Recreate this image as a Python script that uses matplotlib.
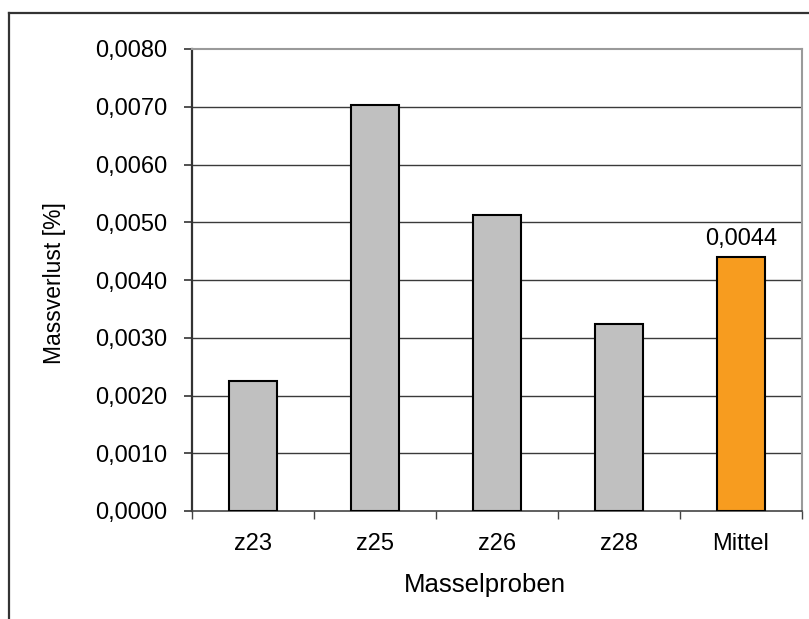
import matplotlib
matplotlib.use("Agg")
import matplotlib.pyplot as plt
from matplotlib.lines import Line2D
from matplotlib.ticker import FixedLocator, FuncFormatter, NullFormatter

plt.rcParams['font.family'] = ['Liberation Sans', 'DejaVu Sans']

# Mass loss per sample and the mean
categories = ["z23", "z25", "z26", "z28", "Mittel"]
values = [0.00225, 0.00703, 0.00513, 0.00324, 0.0044]
mean_label = "0,0044"
y_ticks = [0.000, 0.001, 0.002, 0.003, 0.004, 0.005, 0.006, 0.007, 0.008]

W, H = 809, 619
fig = plt.figure(figsize=(W / 100, H / 100), dpi=100)
ax = fig.add_axes([192 / W, 1 - 511 / H, 610 / W, 462 / H])

bar_colors = ["#C0C0C0"] * 4 + ["#F79C1F"]
x = list(range(len(categories)))
ax.bar(x, values, width=0.4, color=bar_colors, edgecolor="black",
       linewidth=1.5, zorder=3)

ax.set_xlim(-0.5, len(categories) - 0.5)
ax.set_ylim(0, 0.008)

# value label above the mean bar
ax.annotate(mean_label, xy=(x[-1], values[-1]), xytext=(0, 5),
            textcoords="offset points", ha="center", va="bottom",
            fontsize=17)

# y axis
ax.yaxis.set_major_locator(FixedLocator(y_ticks))
ax.yaxis.set_major_formatter(
    FuncFormatter(lambda v, p: f"{v:.4f}".replace(".", ",")))
ax.tick_params(axis="y", which="major", length=6, width=1.2,
               direction="out", pad=12, labelsize=17, color="#333333")

# x axis: labels at category centres, ticks at category boundaries
ax.set_xticks(x)
ax.set_xticklabels(categories)
ax.tick_params(axis="x", which="major", length=0, pad=16, labelsize=17)
ax.xaxis.set_minor_locator(FixedLocator([i - 0.5 for i in range(len(categories) + 1)]))
ax.xaxis.set_minor_formatter(NullFormatter())
ax.tick_params(axis="x", which="minor", length=6, width=1.0,
               direction="out", color="#444444")

# horizontal gridlines
for v in y_ticks[1:-1]:
    ax.axhline(v, color="#3a3a3a", linewidth=1.0, zorder=1)

for side in ("top", "right"):
    ax.spines[side].set_color("#9a9a9a")
    ax.spines[side].set_linewidth(1.5)
ax.spines["left"].set_color("#333333")
ax.spines["left"].set_linewidth(1.6)
ax.spines["bottom"].set_color("#444444")
ax.spines["bottom"].set_linewidth(1.2)

fig.text(485 / W, 1 - 585 / H, "Masselproben", ha="center", va="center",
         fontsize=18.5)
fig.text(55 / W, 1 - 283 / H, "Massverlust [%]", ha="center", va="center",
         rotation=90, fontsize=16.5)

# outer chart frame
fig.add_artist(Line2D([9 / W, 1.0], [1 - 13 / H, 1 - 13 / H],
                      transform=fig.transFigure, color="#333333", linewidth=1.6))
fig.add_artist(Line2D([9 / W, 9 / W], [1 - 13 / H, 0.0],
                      transform=fig.transFigure, color="#333333", linewidth=1.6))

fig.savefig("out.png", dpi=100, facecolor="white")
